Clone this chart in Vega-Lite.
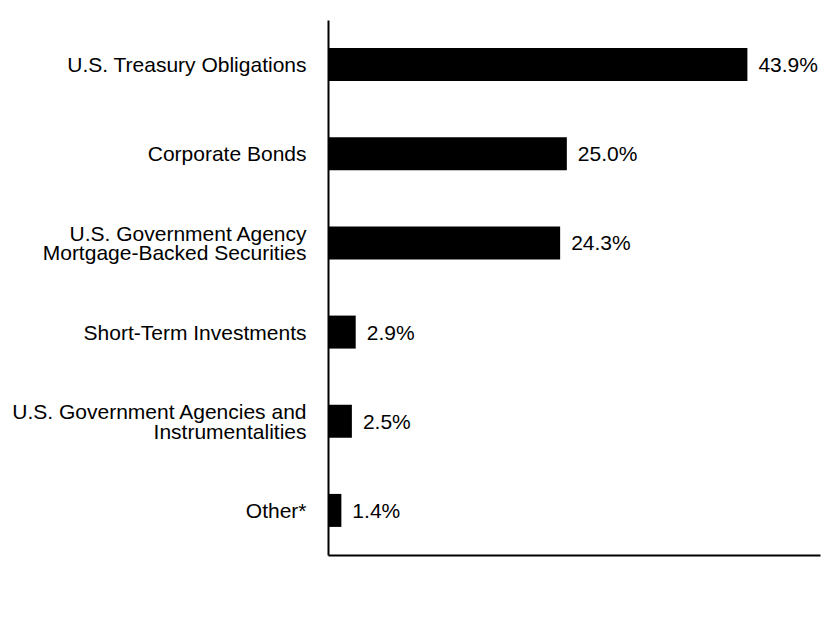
{
  "$schema": "https://vega.github.io/schema/vega-lite/v6.json",
  "autosize": "none",
  "width": 492,
  "height": 535,
  "padding": {"left": 328, "top": 20, "right": 20, "bottom": 81},
  "background": "white",
  "config": {"view": {"stroke": null}, "font": "Liberation Sans"},
  "data": {"values": [
    {"category": "U.S. Treasury Obligations", "value": 0.439},
    {"category": "Corporate Bonds", "value": 0.250},
    {"category": "U.S. Government Agency|Mortgage-Backed Securities", "value": 0.243},
    {"category": "Short-Term Investments", "value": 0.029},
    {"category": "U.S. Government Agencies and|Instrumentalities", "value": 0.025},
    {"category": "Other*", "value": 0.014}
  ]},
  "encoding": {
    "y": {"field": "category", "type": "nominal", "sort": null,
      "scale": {"paddingInner": 0.63, "paddingOuter": 0.315},
      "axis": {"title": null, "ticks": false, "domainColor": "black", "domainWidth": 2,
        "labelFontSize": 21, "labelColor": "black", "labelPadding": 22, "labelLimit": 400,
        "labelLineHeight": 19.5, "labelExpr": "split(datum.label, '|')",
        "labelOffset": {"condition": {"test": "indexof(datum.label, '|') >= 0", "value": -8}, "value": 1.5}}},
    "x": {"field": "value", "type": "quantitative",
      "scale": {"domain": [0, 0.515], "nice": false},
      "axis": {"title": null, "ticks": false, "labels": false, "grid": false,
        "domainColor": "black", "domainWidth": 2}}
  },
  "layer": [
    {"mark": {"type": "bar", "color": "black"}},
    {"mark": {"type": "text", "align": "left", "dx": 11, "dy": 1.5, "fontSize": 21, "color": "black"},
     "encoding": {"text": {"field": "value", "type": "quantitative", "format": ".1%"}}}
  ]
}
